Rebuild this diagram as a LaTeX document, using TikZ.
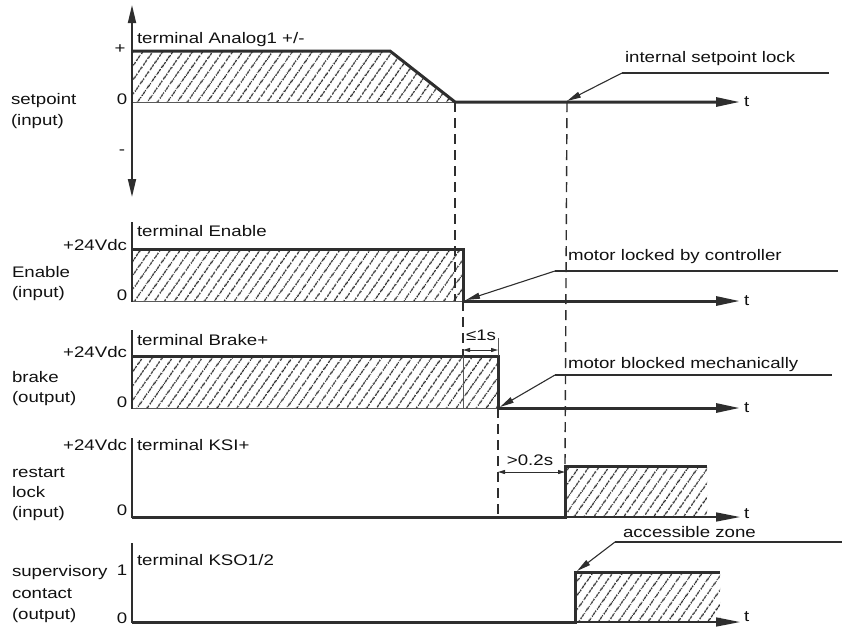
\documentclass[tikz,border=0pt]{standalone}
\usepackage{fontspec}
\setmainfont{Liberation Sans}[FakeStretch=1.22]
\usetikzlibrary{patterns.meta,arrows.meta}
\definecolor{linec}{HTML}{2E2E2E}
\definecolor{hatchc}{HTML}{2A2A2A}
\definecolor{txtc}{HTML}{111111}
\begin{document}
\begin{tikzpicture}[x=0.5pt,y=-0.5pt,
  font=\fontsize{7.65}{9}\selectfont,
  every node/.style={inner sep=0pt, outer sep=0pt, text=txtc},
  lbl/.style={anchor=base west},
  rlbl/.style={anchor=base east},
  clbl/.style={anchor=base},
  tlbl/.style={anchor=west},
  sig/.style={line width=1.5pt, draw=linec, line join=miter},
  sigarrow/.style={-{Triangle[length=12pt,width=4.5pt]}},
  thinl/.style={line width=0.5pt, draw=linec!80},
  axisl/.style={line width=0.9pt, draw=linec},
  tax/.style={line width=0.8pt, draw=linec, -{Triangle[length=12pt,width=4.5pt]}},
  dashl/.style={line width=0.7pt, draw=linec, dash pattern=on 5pt off 3pt},
  leader/.style={line width=0.55pt, draw=linec, -{Triangle[length=7pt,width=3pt]}},
  leaderh/.style={line width=0.55pt, draw=linec},
  dimen/.style={line width=0.45pt, draw=linec, {Triangle[length=3.5pt,width=2pt]}-{Triangle[length=3.5pt,width=2pt]}},
  hatch/.style={pattern={Lines[angle=55,distance=4pt,line width=0.7pt]}, pattern color=hatchc}
]
\useasboundingbox (0,0) rectangle (842,628);

% ---------------- setpoint ----------------
\coordinate (spTop) at (132,5);
\coordinate (spBot) at (132,197);
\coordinate (spA) at (132,51);
\coordinate (spB) at (390,51);
\coordinate (spC) at (455,102);
\coordinate (spO) at (132,102);
\coordinate (spEnd) at (740,102);
\fill[hatch] (spA) -- (spB) -- (spC) -- (spO) -- cycle;
\draw[thinl] (spO) -- (spC);
\draw[sig,sigarrow] (spA) -- (spB) -- (spC) -- (spEnd);
\draw[axisl,{Triangle[length=9pt,width=4pt]}-{Triangle[length=9pt,width=4pt]}] (spTop) -- (spBot);
\node[lbl] (spTerm) at (137,43) {terminal Analog1 +/-};
\node[clbl] (spPlus) at (120,53) {+};
\node[clbl] (spZero) at (122,104) {0};
\node[clbl] (spMinus) at (122,154) {-};
\node[lbl] (spName) at (11,104) {setpoint};
\node[lbl] (spDir) at (11,125) {(input)};
\node[tlbl] (spT) at (744,102) {t};
\node[lbl] (spLock) at (625,62) {internal setpoint lock};
\coordinate (spL1) at (622,73);
\coordinate (spL2) at (829,73);
\coordinate (spL3) at (567,101);
\draw[leaderh] (spL1) -- (spL2);
\draw[leader] (spL1) -- (spL3);

% ---------------- Enable ----------------
\coordinate (enA) at (132,249);
\coordinate (enB) at (463,249);
\coordinate (enC) at (463,301);
\coordinate (enO) at (132,301);
\coordinate (enEnd) at (740,301);
\fill[hatch] (enA) rectangle (enC);
\draw[thinl] (enO) -- (enC);
\draw[sig,sigarrow] (enA) -- (enB) -- (enC) -- (enEnd);
\draw[axisl] (132,222) -- (132,302);
\node[lbl] (enTerm) at (137,236) {terminal Enable};
\node[rlbl] (enHi) at (127,250) {+24Vdc};
\node[clbl] (enZero) at (122,300) {0};
\node[lbl] (enName) at (12,277) {Enable};
\node[lbl] (enDir) at (12,297) {(input)};
\node[tlbl] (enT) at (744,301) {t};
\node[lbl] (enLock) at (568,260) {motor locked by controller};
\coordinate (enL1) at (555,271);
\coordinate (enL2) at (838,271);
\coordinate (enL3) at (466,300);
\draw[leaderh] (enL1) -- (enL2);
\draw[leader] (enL1) -- (enL3);

% ---------------- brake ----------------
\coordinate (brA) at (132,356);
\coordinate (brB) at (498,356);
\coordinate (brC) at (498,408);
\coordinate (brO) at (132,408);
\coordinate (brEnd) at (740,408);
\fill[hatch] (brA) rectangle (brC);
\draw[thinl] (brO) -- (brC);
\draw[sig,sigarrow] (brA) -- (brB) -- (brC) -- (brEnd);
\draw[thinl] (brB) -- (498,338);
\draw[axisl] (132,330) -- (132,409);
\node[lbl] (brTerm) at (137,345) {terminal Brake+};
\node[rlbl] (brHi) at (127,357) {+24Vdc};
\node[clbl] (brZero) at (122,407) {0};
\node[lbl] (brName) at (12,382) {brake};
\node[lbl] (brDir) at (12,402) {(output)};
\node[tlbl] (brT) at (744,408) {t};
\node[lbl] (brLock) at (568,368) {motor blocked mechanically};
\coordinate (brL1) at (555,375);
\coordinate (brL2) at (832,375);
\coordinate (brL3) at (500,407);
\draw[leaderh] (brL1) -- (brL2);
\draw[leader] (brL1) -- (brL3);
% <=1s
\coordinate (d1a) at (463,350);
\coordinate (d1b) at (498,350);
\draw[dimen] (d1a) -- (d1b);
\node[clbl] (d1t) at (481,340) {≤1s};

% ---------------- restart lock ----------------
\coordinate (rsO) at (132,517);
\coordinate (rsA) at (565,517);
\coordinate (rsB) at (565,466);
\coordinate (rsC) at (707,466);
\coordinate (rsEnd) at (740,517);
\fill[hatch] (rsB) rectangle (707,517);
\draw[tax] (rsA) -- (rsEnd);
\draw[sig] (rsO) -- (rsA) -- (rsB) -- (rsC);
\draw[axisl] (132,438) -- (132,518);
\node[rlbl] (rsHi) at (127,450) {+24Vdc};
\node[lbl] (rsTerm) at (137,450) {terminal KSI+};
\node[clbl] (rsZero) at (122,515) {0};
\node[lbl] (rsName1) at (12,477) {restart};
\node[lbl] (rsName2) at (12,497) {lock};
\node[lbl] (rsDir) at (12,517) {(input)};
\node[tlbl] (rsT) at (744,514) {t};
% >0.2s
\coordinate (d2a) at (498,472);
\coordinate (d2b) at (565,472);
\draw[dimen] (d2a) -- (d2b);
\node[clbl] (d2t) at (530,465) {>0.2s};

% ---------------- supervisory contact ----------------
\coordinate (svO) at (132,622);
\coordinate (svA) at (575,622);
\coordinate (svB) at (575,572);
\coordinate (svC) at (720,572);
\coordinate (svEnd) at (740,622);
\fill[hatch] (svB) rectangle (720,622);
\draw[tax] (svA) -- (svEnd);
\draw[sig] (svO) -- (svA) -- (svB) -- (svC);
\draw[axisl] (132,543) -- (132,623);
\node[lbl] (svTerm) at (137,565) {terminal KSO1/2};
\node[clbl] (svOne) at (122,575) {1};
\node[clbl] (svZero) at (122,623) {0};
\node[lbl] (svName1) at (12,576) {supervisory};
\node[lbl] (svName2) at (12,598) {contact};
\node[lbl] (svDir) at (12,619) {(output)};
\node[tlbl] (svT) at (744,617) {t};
\node[lbl] (svZone) at (623,537) {accessible zone};
\coordinate (svL1) at (615,542);
\coordinate (svL2) at (842,542);
\coordinate (svL3) at (577,571);
\draw[leaderh] (svL1) -- (svL2);
\draw[leader] (svL1) -- (svL3);

% ---------------- dashed time markers ----------------
\draw[dashl] (spC) -- (455,301);
\draw[dashl] (enC) -- (463,356);
\draw[thinl] (463,356) -- (463,408);
\draw[dashl] (brC) -- (498,517);
\draw[dashl] (567,102) -- (rsB);
\end{tikzpicture}
\end{document}
